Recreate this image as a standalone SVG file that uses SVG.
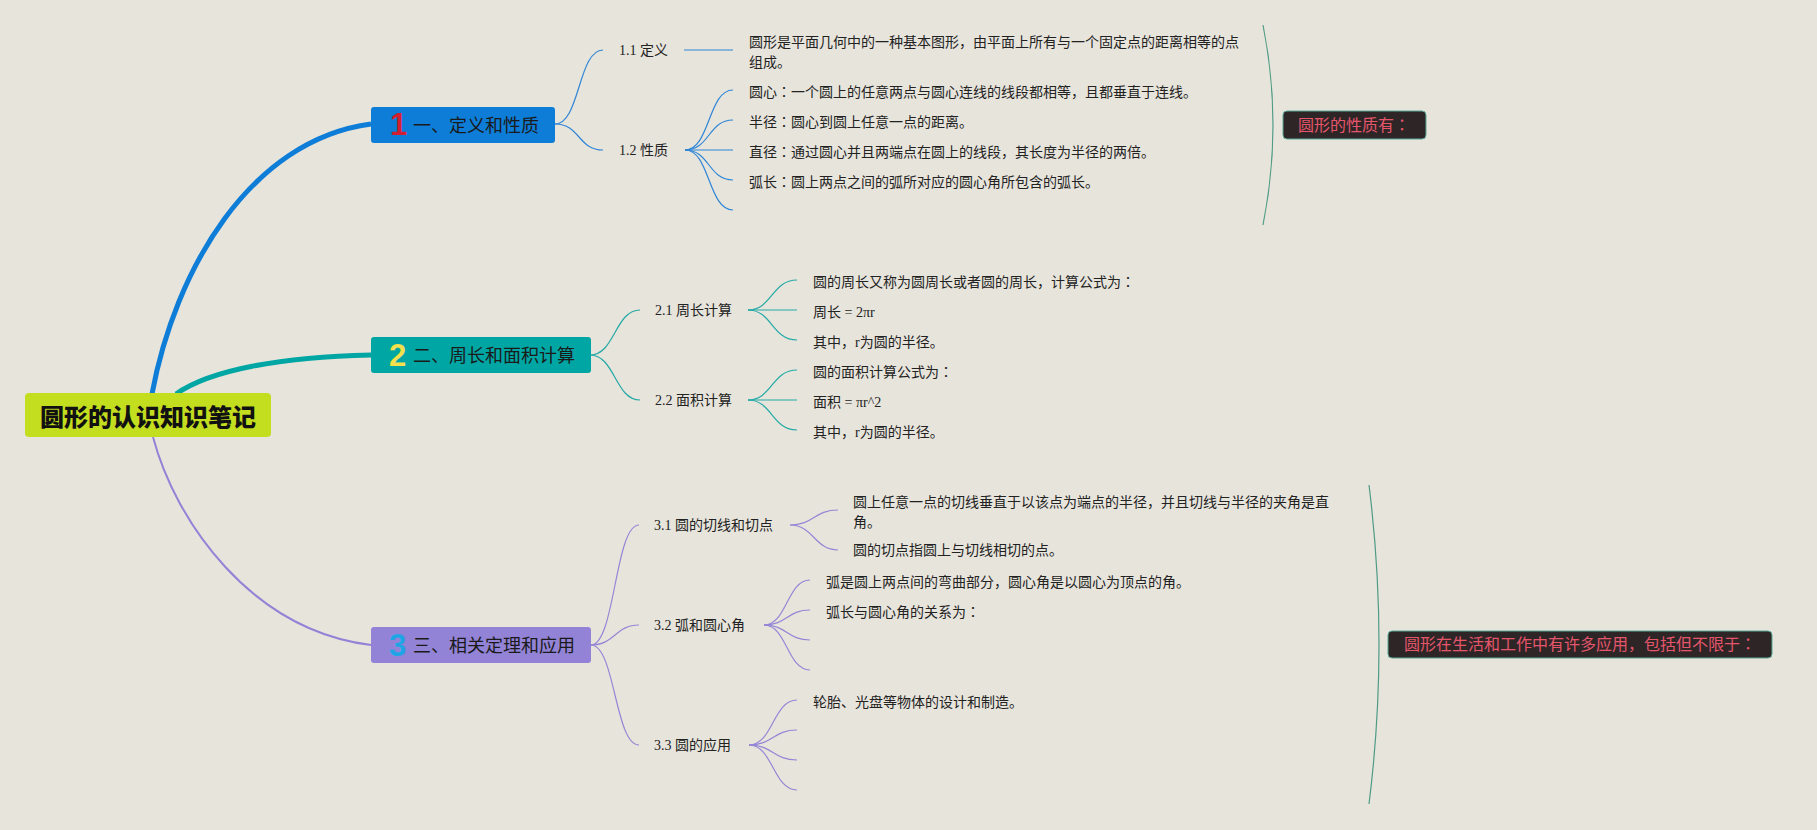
<svg xmlns="http://www.w3.org/2000/svg" width="1817" height="830" viewBox="0 0 1817 830">
<style>
.t{font-family:"Liberation Serif","Noto Sans CJK SC",serif;font-size:14px;fill:#222}
.h{font-family:"Noto Sans CJK SC",sans-serif;font-size:18px;fill:#1a1a1a}
.num{font-family:"Liberation Sans",sans-serif;font-size:31px;font-weight:bold}
.c1{fill:none;stroke:#2f86d6;stroke-width:1.2}
.c2{fill:none;stroke:#25aaa6;stroke-width:1.2}
.c3{fill:none;stroke:#9486d6;stroke-width:1.2}
.sum{font-family:"Noto Sans CJK SC",sans-serif;font-size:16px;fill:#e5566b;text-anchor:middle}
.sbox{fill:#2e2527;stroke:#5aa898;stroke-width:1}
.br{fill:none;stroke:#4f9c84;stroke-width:1.2}
.cl{font-family:"Noto Sans CJK JP",sans-serif}
</style>
<rect x="0" y="0" width="1817" height="830" fill="#e7e4dc"/>
<g id="connectors">
<path d="M152,394 C175,270 250,140 371,124" fill="none" stroke="#0d7dd8" stroke-width="5"/>
<path d="M176,394 C210,370 280,357 371,355" fill="none" stroke="#00a6a3" stroke-width="5"/>
<path d="M153,437 C175,520 250,630 371,645" fill="none" stroke="#9283d6" stroke-width="2"/>
<path class="c1" d="M555,124 C580,124 578,50 603,50"/>
<path class="c1" d="M555,124 C580,124 578,150 603,150"/>
<path class="c1" d="M684,50 L733,50" stroke-width="2"/>
<path class="c1" d="M685,150 C710,150 708,90 733,90"/>
<path class="c1" d="M685,150 C710,150 708,120 733,120"/>
<path class="c1" d="M685,150 L733,150" stroke-width="2"/>
<path class="c1" d="M685,150 C710,150 708,180 733,180"/>
<path class="c1" d="M685,150 C710,150 708,210 733,210"/>
<path class="c2" d="M590,355 C615,355 615,310 640,310"/>
<path class="c2" d="M590,355 C615,355 615,400 640,400"/>
<path class="c2" d="M748,310 C772,310 772,280 797,280"/>
<path class="c2" d="M748,310 L797,310" stroke-width="2"/>
<path class="c2" d="M748,310 C772,310 772,340 797,340"/>
<path class="c2" d="M748,400 C772,400 772,370 797,370"/>
<path class="c2" d="M748,400 L797,400" stroke-width="2"/>
<path class="c2" d="M748,400 C772,400 772,430 797,430"/>
<path class="c3" d="M591,645 C615,645 615,525 639,525"/>
<path class="c3" d="M591,645 C615,645 615,625 639,625"/>
<path class="c3" d="M591,645 C615,645 615,745 639,745"/>
<path class="c3" d="M790,525 C814,525 814,510 838,510"/>
<path class="c3" d="M790,525 C814,525 814,550 838,550"/>
<path class="c3" d="M764,625 C787,625 787,580 810,580"/>
<path class="c3" d="M764,625 C787,625 787,610 810,610"/>
<path class="c3" d="M764,625 C787,625 787,640 810,640"/>
<path class="c3" d="M764,625 C787,625 787,670 810,670"/>
<path class="c3" d="M749,745 C773,745 773,700 797,700"/>
<path class="c3" d="M749,745 C773,745 773,730 797,730"/>
<path class="c3" d="M749,745 C773,745 773,760 797,760"/>
<path class="c3" d="M749,745 C773,745 773,790 797,790"/>
<path class="br" d="M1263,25 Q1283,125 1263,225"/>
<path class="br" d="M1369,485 Q1389,645 1369,804"/>
</g>
<g id="root">
<rect x="25" y="393" width="246" height="44" rx="4" fill="#c3dd1f"/>
<text x="148" y="425.5" text-anchor="middle" font-family="'Noto Sans CJK SC',sans-serif" font-size="24" font-weight="900" fill="#111">圆形的认识知识笔记</text>
</g>
<g id="n1">
<rect x="371" y="107" width="184" height="36" rx="3" fill="#0d7dd8"/>
<text class="num" x="390" y="135" fill="#d41f33">1</text>
<text class="h" x="413" y="131.5">一、定义和性质</text>
</g>
<g id="n2">
<rect x="371" y="337" width="220" height="36" rx="3" fill="#00a6a3"/>
<text class="num" x="389" y="366" fill="#f4e04c">2</text>
<text class="h" x="413" y="361.5">二、周长和面积计算</text>
</g>
<g id="n3">
<rect x="371" y="627" width="220" height="36" rx="3" fill="#9283d6"/>
<text class="num" x="389" y="656" fill="#1fa5e6">3</text>
<text class="h" x="413" y="651.5">三、相关定理和应用</text>
</g>
<g id="n1-1"><text class="t" x="619" y="55">1.1 定义</text></g>
<g id="n1-2"><text class="t" x="619" y="155">1.2 性质</text></g>
<g id="n1-1-1"><text class="t" x="749" y="47">圆形是平面几何中的一种基本图形，由平面上所有与一个固定点的距离相等的点</text><text class="t" x="749" y="67">组成。</text></g>
<g id="n1-2-1"><text class="t" x="749" y="97">圆心<tspan class="cl">：</tspan>一个圆上的任意两点与圆心连线的线段都相等，且都垂直于连线。</text></g>
<g id="n1-2-2"><text class="t" x="749" y="127">半径<tspan class="cl">：</tspan>圆心到圆上任意一点的距离。</text></g>
<g id="n1-2-3"><text class="t" x="749" y="157">直径<tspan class="cl">：</tspan>通过圆心并且两端点在圆上的线段，其长度为半径的两倍。</text></g>
<g id="n1-2-4"><text class="t" x="749" y="187">弧长<tspan class="cl">：</tspan>圆上两点之间的弧所对应的圆心角所包含的弧长。</text></g>
<g id="sum1">
<rect class="sbox" x="1283" y="111" width="143" height="28" rx="4"/>
<text class="sum" x="1354" y="130.5">圆形的性质有<tspan class="cl">：</tspan></text>
</g>
<g id="n2-1"><text class="t" x="655" y="315">2.1 周长计算</text></g>
<g id="n2-2"><text class="t" x="655" y="405">2.2 面积计算</text></g>
<g id="n2-1-1"><text class="t" x="813" y="287">圆的周长又称为圆周长或者圆的周长，计算公式为<tspan class="cl">：</tspan></text></g>
<g id="n2-1-2"><text class="t" x="813" y="317">周长 = 2πr</text></g>
<g id="n2-1-3"><text class="t" x="813" y="347">其中，r为圆的半径。</text></g>
<g id="n2-2-1"><text class="t" x="813" y="377">圆的面积计算公式为<tspan class="cl">：</tspan></text></g>
<g id="n2-2-2"><text class="t" x="813" y="407">面积 = πr^2</text></g>
<g id="n2-2-3"><text class="t" x="813" y="437">其中，r为圆的半径。</text></g>
<g id="n3-1"><text class="t" x="654" y="530">3.1 圆的切线和切点</text></g>
<g id="n3-2"><text class="t" x="654" y="630">3.2 弧和圆心角</text></g>
<g id="n3-3"><text class="t" x="654" y="750">3.3 圆的应用</text></g>
<g id="n3-1-1"><text class="t" x="853" y="507">圆上任意一点的切线垂直于以该点为端点的半径，并且切线与半径的夹角是直</text><text class="t" x="853" y="527">角。</text></g>
<g id="n3-1-2"><text class="t" x="853" y="555">圆的切点指圆上与切线相切的点。</text></g>
<g id="n3-2-1"><text class="t" x="826" y="587">弧是圆上两点间的弯曲部分，圆心角是以圆心为顶点的角。</text></g>
<g id="n3-2-2"><text class="t" x="826" y="617">弧长与圆心角的关系为<tspan class="cl">：</tspan></text></g>
<g id="n3-3-1"><text class="t" x="813" y="707">轮胎、光盘等物体的设计和制造。</text></g>
<g id="sum2">
<rect class="sbox" x="1388" y="631" width="384" height="27" rx="4"/>
<text class="sum" x="1580" y="650">圆形在生活和工作中有许多应用，包括但不限于<tspan class="cl">：</tspan></text>
</g>
</svg>
